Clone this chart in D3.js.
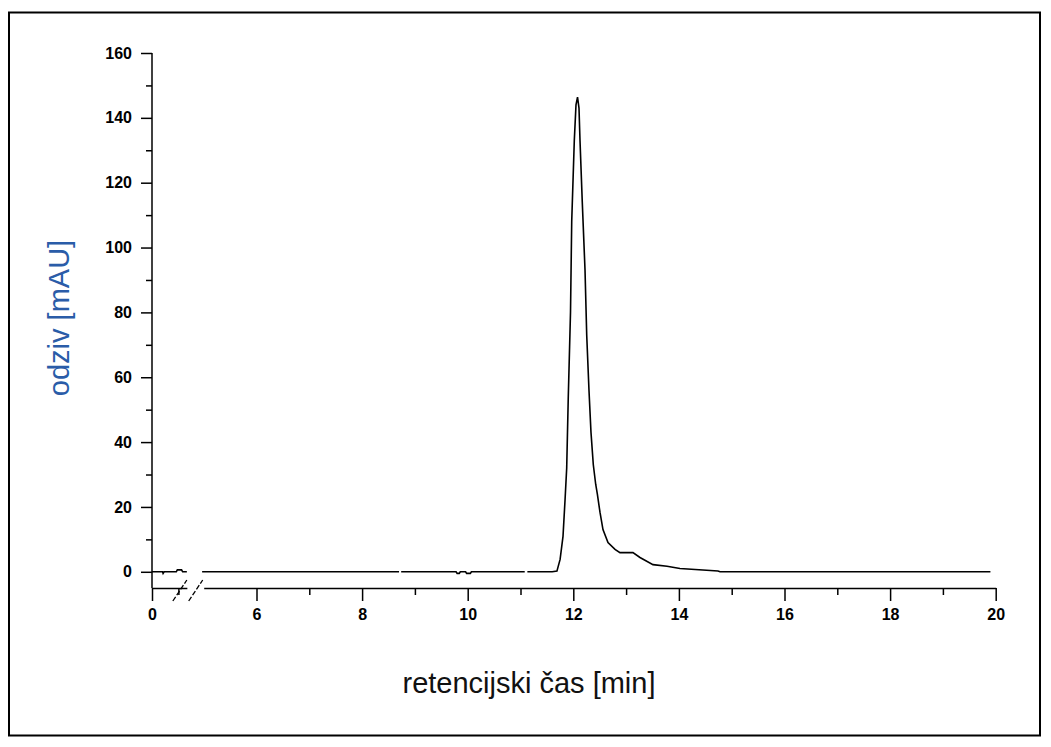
<!DOCTYPE html>
<meta charset="UTF-8">
<style>
body { margin: 0; background: #fff; }
.tick text { font-family: "Liberation Sans Narrow", "Arial Narrow", "Liberation Sans", sans-serif; font-weight: bold; font-size: 16px; }
.axis path, .axis line { stroke: #000; stroke-width: 1.5px; }
.trace { fill: none; stroke: #000; stroke-width: 1.6px; }
</style>
<body>
<script src="https://cdnjs.cloudflare.com/ajax/libs/d3/7.8.5/d3.min.js"></script>
<script>
// chromatogram, before the axis break (0 .. 0.66 min)
const timeA  = [0, 0.20, 0.21, 0.23, 0.46, 0.48, 0.56, 0.58, 0.66];
const valueA = [0, 0,   -0.5,  0,    0,    0.6,  0.6,  0,    0];

// chromatogram, after the break (5 .. 20 min); null = gap in the trace
const timeB = [4.97, 8.70, 8.72, 8.74, 9.78, 9.80, 9.84, 9.86, 9.96, 9.98, 10.05, 10.07,
  11.08, 11.10, 11.13, 11.60, 11.69, 11.75, 11.805, 11.843, 11.875, 11.905, 11.947, 11.97,
  12.019, 12.051, 12.08, 12.108, 12.127, 12.17, 12.222, 12.254, 12.297, 12.335, 12.379,
  12.424, 12.455, 12.506, 12.562, 12.657, 12.79, 12.884, 13.13, 13.263, 13.509, 13.775,
  14.02, 14.74, 14.78, 19.9];
const valueB = [0, 0, null, 0, 0, -0.5, -0.5, 0, 0, -0.5, -0.5, 0,
  0, null, 0, 0, 0.2, 3.8, 10.9, 22, 32, 54, 80, 108,
  133, 144, 146.4, 143, 133, 114, 93, 73, 56, 43, 33,
  27, 24, 18.3, 13.0, 9.0, 6.9, 5.9, 5.9, 4.4, 2.2, 1.7,
  1.0, 0.25, 0, 0];

const yMajor = [0, 20, 40, 60, 80, 100, 120, 140, 160];
const yMinor = [10, 30, 50, 70, 90, 110, 130, 150];
const xMajorB = [6, 8, 10, 12, 14, 16, 18, 20];
const xMinorB = [7, 9, 11, 13, 15, 17, 19];

const W = 1051, H = 747;
const pxPerMin = 52.8;
const plotLeft = 152, plotTop = 53, plotBottom = 588;
const startB = 203.7;

const svg = d3.select("body").append("svg").attr("width", W).attr("height", H);

// outer frame
svg.append("rect").attr("x", 9).attr("y", 12.5).attr("width", 1031).attr("height", 723)
  .attr("fill", "none").attr("stroke", "#000").attr("stroke-width", 2);

const y = d3.scaleLinear().domain([-5, 160]).range([plotBottom, plotTop]);
const xA = d3.scaleLinear().domain([0, 0.66]).range([plotLeft, plotLeft + 0.66 * pxPerMin]);
const xB = d3.scaleLinear().domain([5, 20]).range([startB, startB + 15 * pxPerMin]);

// y axis
const gy = svg.append("g").attr("class", "axis").attr("transform", `translate(${plotLeft},0)`);
gy.call(d3.axisLeft(y).tickValues(yMajor).tickSize(11).tickPadding(9).tickSizeOuter(0).tickFormat(d3.format("d")));
gy.append("g").call(d3.axisLeft(y).tickValues(yMinor).tickSize(6).tickFormat("").tickSizeOuter(0))
  .select(".domain").remove();
gy.select(".domain").attr("d", `M0,${y(-5)}V${y(160)}`);

// x axis, first part
const gxA = svg.append("g").attr("class", "axis").attr("transform", `translate(0,${plotBottom})`);
gxA.call(d3.axisBottom(xA).tickValues([0]).tickSize(13).tickPadding(8).tickSizeOuter(0).tickFormat(d3.format("d")));
gxA.append("g").call(d3.axisBottom(xA).tickValues([0.5]).tickSize(7).tickFormat("").tickSizeOuter(0))
  .select(".domain").remove();

// x axis, second part
const gxB = svg.append("g").attr("class", "axis").attr("transform", `translate(0,${plotBottom})`);
gxB.call(d3.axisBottom(xB).tickValues(xMajorB).tickSize(13).tickPadding(8).tickSizeOuter(0).tickFormat(d3.format("d")));
gxB.append("g").call(d3.axisBottom(xB).tickValues(xMinorB).tickSize(7).tickFormat("").tickSizeOuter(0))
  .select(".domain").remove();

// break marks
const brk = [xA(0.66) - 7, xB(5) - 8];
svg.selectAll("line.brk").data(brk).join("line").attr("class", "brk")
  .attr("x1", d => d - 7).attr("y1", plotBottom + 13)
  .attr("x2", d => d + 7).attr("y2", plotBottom - 8)
  .attr("stroke", "#000").attr("stroke-width", 1.3).attr("stroke-dasharray", "5,2");

// traces
const line = (xs) => d3.line().defined(d => d[1] != null).x(d => xs(d[0])).y(d => y(d[1]));
svg.append("path").attr("class", "trace").attr("d", line(xA)(d3.zip(timeA, valueA)));
svg.append("path").attr("class", "trace").attr("d", line(xB)(d3.zip(timeB, valueB)));

// axis titles
svg.append("text").attr("x", 529).attr("y", 693).attr("text-anchor", "middle")
  .attr("font-family", "Liberation Sans, Arial, sans-serif").attr("font-size", 29).attr("fill", "#111")
  .text("retencijski čas [min]");
svg.append("text").attr("transform", "translate(69,318) rotate(-90)").attr("text-anchor", "middle")
  .attr("font-family", "Liberation Sans, Arial, sans-serif").attr("font-size", 29).attr("fill", "#2a5ca8")
  .text("odziv [mAU]");
</script>
</body>
